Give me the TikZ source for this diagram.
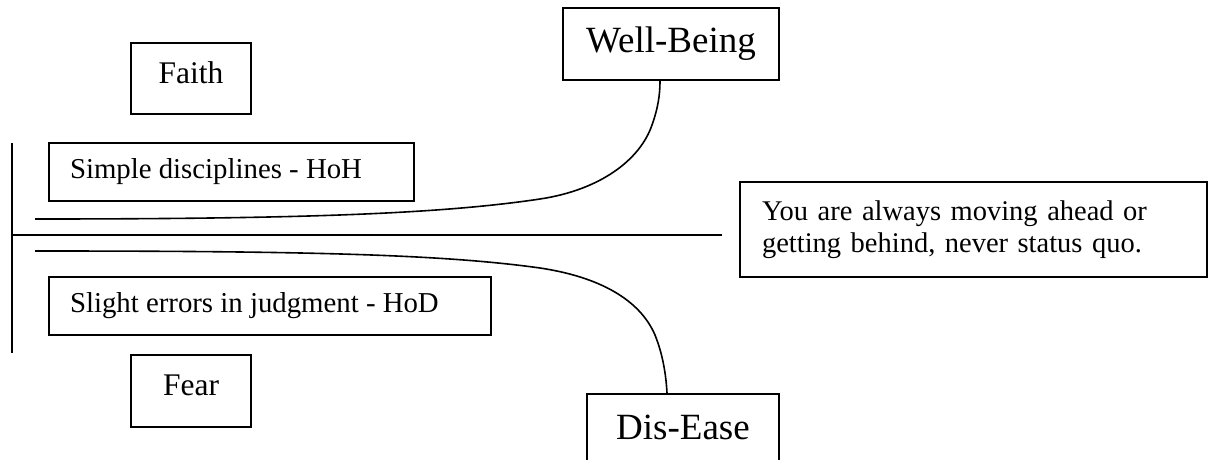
\documentclass[tikz,border=0pt]{standalone}
\usepackage{fontspec}
\setmainfont{Liberation Serif}
\begin{document}
\begin{tikzpicture}[x=1pt,y=-1pt,
  box/.style={draw, line width=1.6pt, rectangle, inner sep=0pt},
  smalltext/.style={font=\fontsize{28.8}{33}\selectfont},
  bigtext/.style={font=\fontsize{37}{42}\selectfont},
  midtext/.style={font=\fontsize{31.5}{36}\selectfont},
  curve/.style={line width=1.6pt}]
\useasboundingbox (0,0) rectangle (1209,460);
\clip (0,0) rectangle (1209,460);
% boxes
\node[box, midtext, minimum width=120pt, minimum height=71pt] (faith) at (191,78.5) {\raisebox{11pt}{Faith}};
\node[box, smalltext, minimum width=365pt, minimum height=58pt] (simple) at (231.5,172) {\makebox[323pt][l]{Simple disciplines - HoH}};
\node[box, smalltext, minimum width=442pt, minimum height=58pt] (slight) at (270,306) {\makebox[400pt][l]{Slight errors in judgment - HoD}};
\node[box, midtext, minimum width=120pt, minimum height=72pt] (fear) at (191,391) {\raisebox{12pt}{Fear}};
\node[box, bigtext, minimum width=216pt, minimum height=72pt] (well) at (671,44) {\raisebox{-6pt}{Well-Being}};
\node[box, bigtext, minimum width=192pt, minimum height=80pt, anchor=north] (dis) at (683,393) {\raisebox{14pt}{Dis-Ease}};
\node[box, font=\fontsize{28.5}{32}\selectfont, minimum height=95pt, inner xsep=22pt, text width=423pt, align=left] (quo) at (973.5,229.5) {You are always moving ahead or\\getting behind, never status quo.};
% lines
\coordinate (vt) at (12,143);
\coordinate (vb) at (12,353);
\coordinate (ml) at (12,235);
\coordinate (mr) at (722,235);
\coordinate (us) at (35,219);
\coordinate (ls) at (35,251);
\draw[curve] (vt) -- (vb);
\draw[curve] (ml) -- (mr);
\draw[curve] (us) .. controls (300,219) and (440,214) .. (540,199)
  .. controls (600,190) and (640,160) .. (652,125)
  .. controls (658,108) and (660,95) .. ([xshift=-11pt]well.south);
\draw[curve] (ls) .. controls (300,251) and (440,254) .. (540,268)
  .. controls (600,277) and (640,300) .. (655,335)
  .. controls (663,355) and (666,375) .. ([xshift=-16pt]dis.north);
\end{tikzpicture}
\end{document}
